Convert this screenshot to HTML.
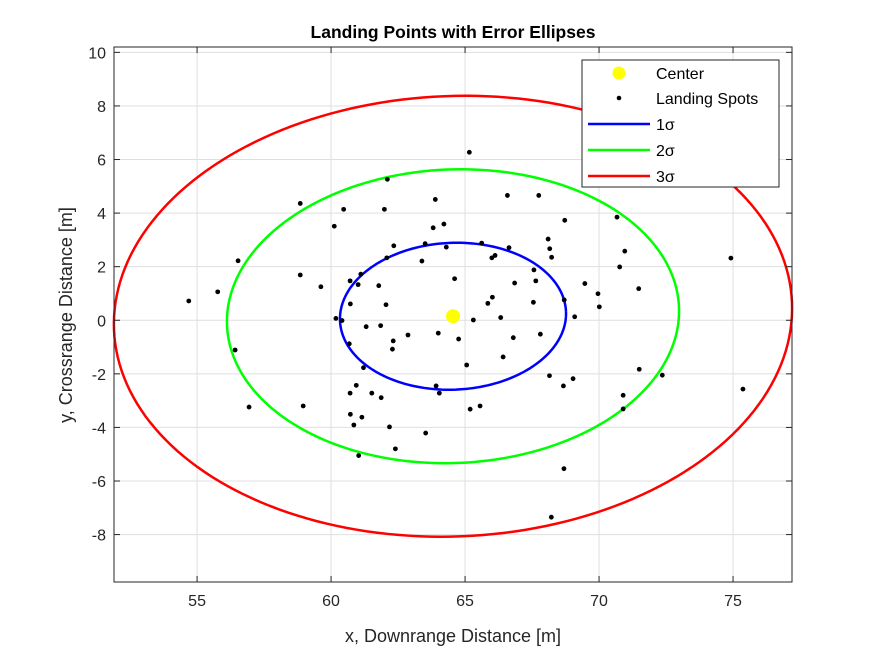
<!DOCTYPE html>
<html><head><meta charset="utf-8"><style>
html,body{margin:0;padding:0;background:#fff}
svg{display:block;font-family:"Liberation Sans",sans-serif}
</style></head><body>
<svg id="chart" width="875" height="656" viewBox="0 0 875 656">
<rect width="875" height="656" fill="#fff"/>
<g id="grid"></g>
<g id="ellipses"></g>
<g id="points"></g>
<g id="axes"></g>
<text x="453" y="38" text-anchor="middle" font-size="17.5" font-weight="bold" fill="#000">Landing Points with Error Ellipses</text>
<text x="453" y="642" text-anchor="middle" font-size="18" fill="#262626">x, Downrange Distance [m]</text>
<text transform="translate(72,315) rotate(-90)" text-anchor="middle" font-size="18" fill="#262626">y, Crossrange Distance [m]</text>
<g id="legend">
<rect x="582" y="60" width="197" height="127" fill="#fff" stroke="#262626" stroke-width="1"/>
<g><circle cx="619" cy="73" r="6.5" fill="#ffff00"/><text x="656" y="79" font-size="16" fill="#000">Center</text></g>
<g><circle cx="619" cy="98" r="2.3" fill="#000"/><text x="656" y="104" font-size="16" fill="#000">Landing Spots</text></g>
<g><line x1="588" x2="650" y1="124" y2="124" stroke="#0000ff" stroke-width="2.5"/><text x="656" y="130" font-size="16" fill="#000">1σ</text></g>
<g><line x1="588" x2="650" y1="150" y2="150" stroke="#00ff00" stroke-width="2.5"/><text x="656" y="156" font-size="16" fill="#000">2σ</text></g>
<g><line x1="588" x2="650" y1="176" y2="176" stroke="#ff0000" stroke-width="2.5"/><text x="656" y="182" font-size="16" fill="#000">3σ</text></g>
</g>
</svg>
<script>
const xTicks=[55,60,65,70,75];
const yTicks=[-8,-6,-4,-2,0,2,4,6,8,10];
const spotX=[65.16,62.10,58.85,60.47,61.99,63.89,60.12,63.81,64.21,62.34,63.51,64.30,56.53,62.08,63.39,58.85,59.62,61.11,60.71,61.01,61.78,64.61,55.77,54.69,60.72,62.05,60.18,60.41,61.31,61.85,62.87,64.00,64.76,66.58,67.75,68.72,70.67,68.10,68.16,68.23,65.62,66.64,66.00,66.12,70.96,70.77,74.92,67.57,66.85,67.64,69.47,69.96,71.48,66.02,65.85,67.55,68.70,70.01,65.31,66.33,69.09,66.80,67.81,56.42,60.68,62.32,62.29,65.06,61.21,60.94,60.71,61.52,61.87,63.92,64.04,56.94,58.96,60.72,61.15,60.85,62.18,63.53,62.40,61.03,65.19,65.56,66.42,68.15,68.67,69.03,71.50,72.36,70.90,70.90,75.37,68.69,68.22];
const spotY=[6.27,5.26,4.36,4.14,4.14,4.51,3.51,3.45,3.59,2.78,2.86,2.73,2.22,2.33,2.21,1.69,1.25,1.72,1.47,1.33,1.29,1.55,1.06,0.72,0.61,0.58,0.07,-0.01,-0.24,-0.20,-0.55,-0.48,-0.70,4.66,4.66,3.73,3.85,3.03,2.67,2.35,2.88,2.71,2.33,2.42,2.58,1.99,2.32,1.88,1.39,1.47,1.37,0.99,1.18,0.86,0.63,0.67,0.76,0.50,0.01,0.10,0.13,-0.65,-0.52,-1.11,-0.88,-0.77,-1.08,-1.67,-1.77,-2.43,-2.72,-2.72,-2.89,-2.45,-2.72,-3.24,-3.20,-3.51,-3.62,-3.91,-3.98,-4.21,-4.80,-5.05,-3.32,-3.20,-1.37,-2.07,-2.45,-2.18,-1.83,-2.05,-2.80,-3.31,-2.57,-5.54,-7.35];
const centerXY=[64.55,0.15];
const sigmaA=[4.22];
const sigmaB=[2.74];
const ellipseAngle=[0.04];
const sigmaLevels=[1,2,3];
const sigmaColors=["#0000ff","#00ff00","#ff0000"];

const L=114,R=792,T=47,B=582;
const xMin=51.9,xMax=77.2,yMin=-9.77,yMax=10.2;
const sx=v=>L+(v-xMin)/(xMax-xMin)*(R-L);
const sy=v=>B-(v-yMin)/(yMax-yMin)*(B-T);
const NS="http://www.w3.org/2000/svg";
function mk(tag,attrs,parent){const e=document.createElementNS(NS,tag);for(const k in attrs)e.setAttribute(k,attrs[k]);parent.appendChild(e);return e;}
const grid=document.getElementById('grid'),axes=document.getElementById('axes');
mk('rect',{x:L,y:T,width:R-L,height:B-T,fill:'#fff'},grid);
xTicks.forEach(t=>{
  const gl=mk('line',{x1:sx(t),x2:sx(t),y1:T,y2:B,stroke:'#dfdfdf','stroke-width':1},grid);
  
  
  mk('line',{x1:sx(t),x2:sx(t),y1:B,y2:B-6,stroke:'#262626'},axes);
  mk('line',{x1:sx(t),x2:sx(t),y1:T,y2:T+6,stroke:'#262626'},axes);
  const tx=mk('text',{x:sx(t),y:B+24,'text-anchor':'middle','font-size':16,fill:'#262626'},axes);
  tx.textContent=t;
  
  
});
yTicks.forEach(t=>{
  const gl=mk('line',{x1:L,x2:R,y1:sy(t),y2:sy(t),stroke:'#dfdfdf','stroke-width':1},grid);
  
  
  mk('line',{x1:L,x2:L+6,y1:sy(t),y2:sy(t),stroke:'#262626'},axes);
  mk('line',{x1:R,x2:R-6,y1:sy(t),y2:sy(t),stroke:'#262626'},axes);
  const tx=mk('text',{x:L-8,y:sy(t)+6,'text-anchor':'end','font-size':16,fill:'#262626'},axes);
  tx.textContent=t;
  
  
});
mk('rect',{x:L,y:T,width:R-L,height:B-T,fill:'none',stroke:'#262626','stroke-width':1},axes);

const eg=document.getElementById('ellipses');
sigmaLevels.forEach((k,i)=>{
  const a=sigmaA[0]*k,b=sigmaB[0]*k,th=ellipseAngle[0];
  let d='';
  for(let j=0;j<=200;j++){
    const t=j/200*2*Math.PI;
    const x=centerXY[0]+a*Math.cos(t)*Math.cos(th)-b*Math.sin(t)*Math.sin(th);
    const y=centerXY[1]+a*Math.cos(t)*Math.sin(th)+b*Math.sin(t)*Math.cos(th);
    d+=(j?'L':'M')+sx(x).toFixed(2)+','+sy(y).toFixed(2);
  }
  const p=mk('path',{d:d,fill:'none',stroke:sigmaColors[i],'stroke-width':2.5},eg);
  
  
});
const pg=document.getElementById('points');
spotX.forEach((x,i)=>{
  const c=mk('circle',{cx:sx(x),cy:sy(spotY[i]),r:2.4,fill:'#000'},pg);
  
  
});
const cc=mk('circle',{cx:sx(centerXY[0]),cy:sy(centerXY[1]),r:7,fill:'#ffff00'},pg);


</script>
</body></html>
